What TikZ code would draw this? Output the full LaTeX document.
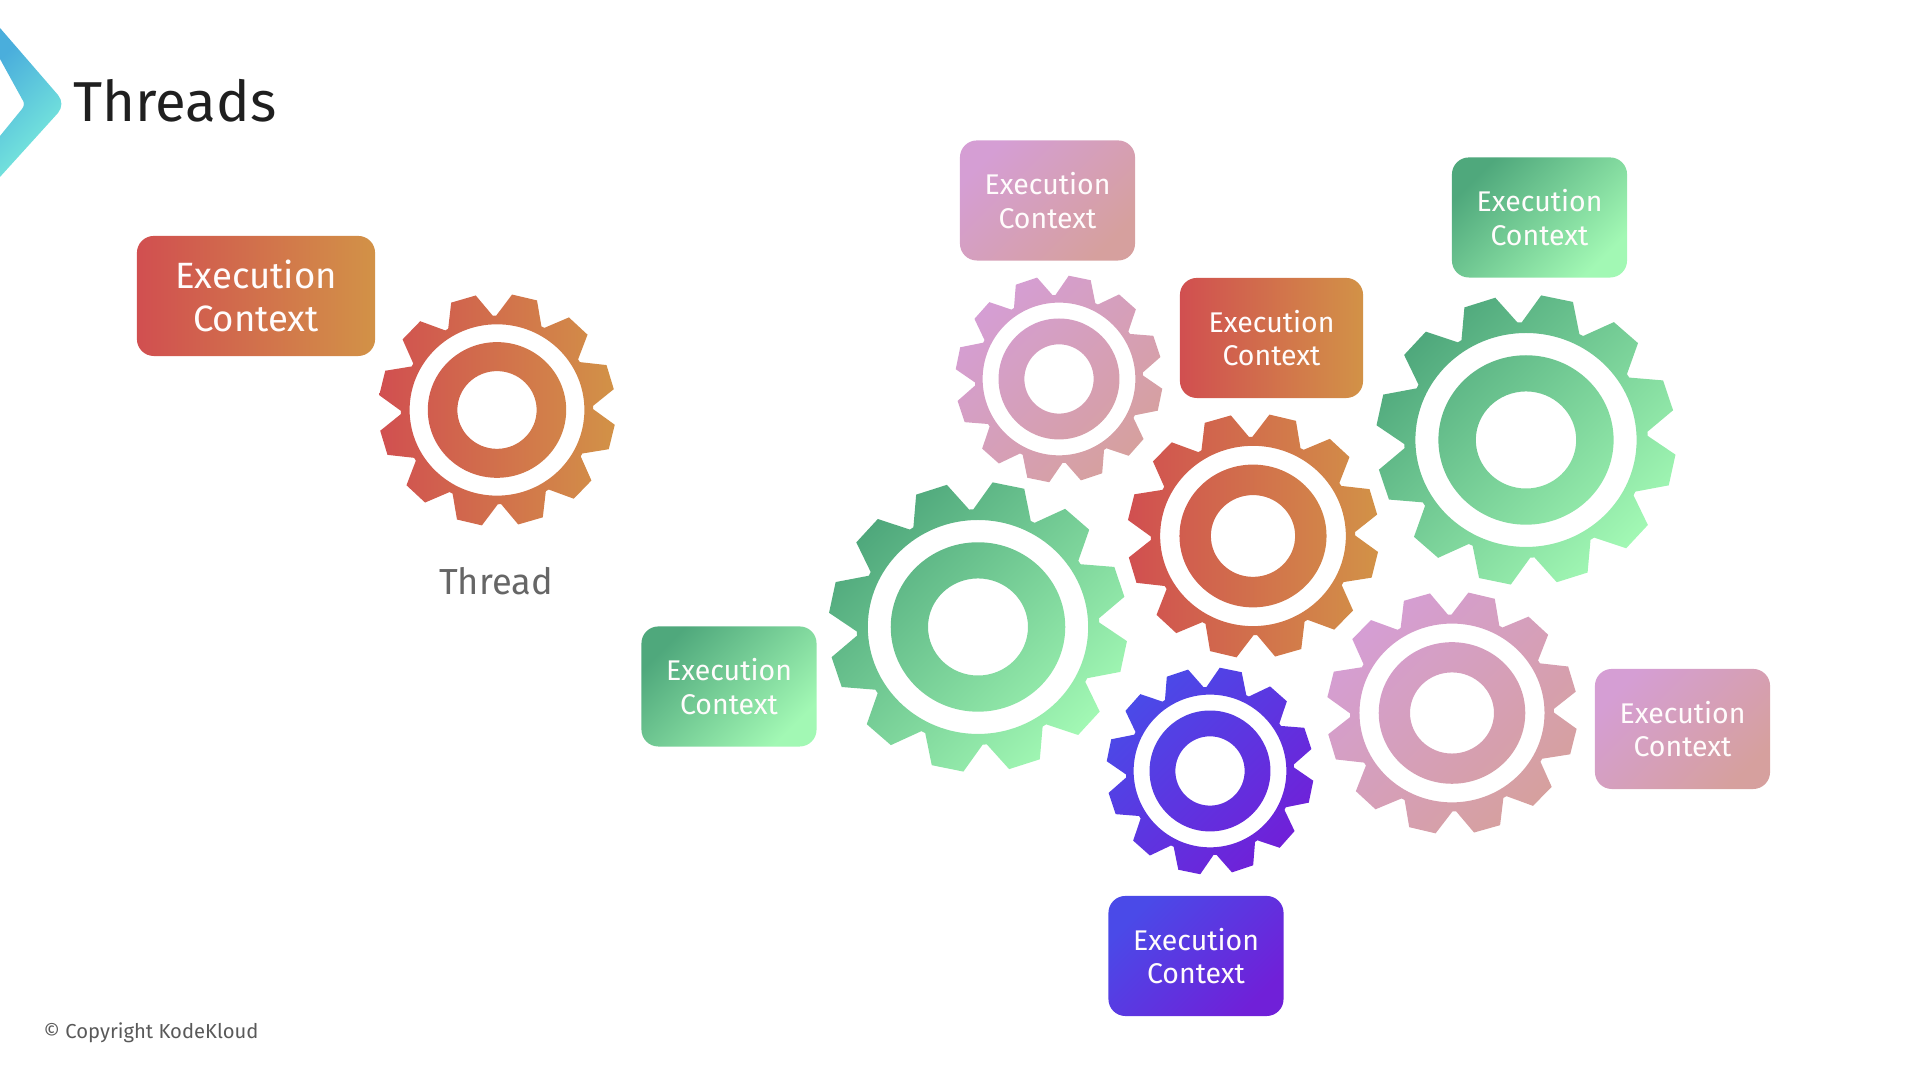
\documentclass[tikz,border=0pt]{standalone}
\usepackage{fontspec}
\setmainfont{Fira Sans}
\usepackage{tikz}
\usetikzlibrary{positioning}

\definecolor{redA}{HTML}{D14F50}
\definecolor{redB}{HTML}{D29247}
\definecolor{pinkA}{HTML}{D59ED4}
\definecolor{pinkB}{HTML}{D6A09E}
\definecolor{greenA}{HTML}{4FA87C}
\definecolor{greenB}{HTML}{A2F8B4}
\definecolor{blueA}{HTML}{4A4AE8}
\definecolor{blueB}{HTML}{7020D8}
\definecolor{logoA}{HTML}{4AAEDC}
\definecolor{logoB}{HTML}{7CEEDC}

\tikzset{
  redgrad/.style={left color=redA, right color=redB},
  pinkgrad/.style={left color=pinkA, right color=pinkB, shading angle=45},
  greengrad/.style={left color=greenA, right color=greenB, shading angle=45},
  bluegrad/.style={left color=blueA, right color=blueB, shading angle=45},
  ctxbox/.style={rounded corners=4.8pt, minimum width=1.75cm, minimum height=1.2cm, inner sep=0pt,
    align=center, text=white!95!pink, font=\fontsize{8.1}{9.6}\selectfont},
  bigbox/.style={ctxbox, minimum width=2.38cm, font=\fontsize{10.4}{12.2}\selectfont},
}

% x, y, outer radius, rotation, gradient and stretch
\newcommand{\gear}[5]{
  \path[shift={(#1,#2)}, #5, even odd rule] (#4+1:.82*#3)
    \foreach \a in {15,45,...,345} {
      -- (#4+\a-14:.82*#3) -- (#4+\a-6.2:1.012*#3) -- (#4+\a+6.2:1.012*#3) -- (#4+\a+14:.82*#3)
    } -- cycle
    (0,0) circle (.745*#3) (0,0) circle (.59*#3) (0,0) circle (.338*#3);
}

\begin{document}
\begin{tikzpicture}[x=.01cm, y=.01cm]
  \useasboundingbox (0,0) rectangle (1920,1080);

  % logo and title
  \path[left color=logoA, right color=logoB, shading angle=45]
    (0,1052) -- (58,985) to[out=-50,in=50] (58,967) -- (0,903) -- (0,944) -- (22,971) to[out=50,in=-50] (22,981) -- (0,1021) -- cycle;
  \node[anchor=base west, inner sep=0pt, text=black!88, font=\fontsize{16}{18}\selectfont] (title) at (73,958) {Threads};

  % single thread
  \gear{497}{670}{115}{1.5}{redgrad, xscale=1.02}
  \node[ctxbox, bigbox, redgrad] (ctxsingle) at (256,784) {Execution\\Context};
  \node[text=black!60, inner sep=0pt, font=\fontsize{10.3}{12}\selectfont] (thread) at (496,499) {Thread};

  % many threads
  \gear{1059}{701}{102.5}{3.4}{pinkgrad}
  \gear{1253}{544}{121}{1.3}{redgrad, xscale=1.03}
  \gear{1526}{640}{143.6}{3}{greengrad, xscale=1.034}
  \gear{978}{453}{143.6}{3.2}{greengrad, xscale=1.03}
  \gear{1452}{367}{120}{1.3}{pinkgrad, xscale=1.035}
  \gear{1210}{309}{102.5}{3.4}{bluegrad}

  \node[ctxbox, pinkgrad] (ctxpinktop) at (1047.5,879.5) {Execution\\Context};
  \node[ctxbox, minimum width=1.83cm, redgrad] (ctxred) at (1271.5,742) {Execution\\Context};
  \node[ctxbox, greengrad] (ctxgreentop) at (1539.5,862.5) {Execution\\Context};
  \node[ctxbox, greengrad] (ctxgreenleft) at (729,393.5) {Execution\\Context};
  \node[ctxbox, pinkgrad] (ctxpinkright) at (1682.5,351) {Execution\\Context};
  \node[ctxbox, bluegrad] (ctxblue) at (1196,124) {Execution\\Context};

  \node[anchor=base west, inner sep=0pt, text=black!65, font=\fontsize{5.75}{7}\selectfont] (copy) at (43,1080-1039) {© Copyright KodeKloud};
\end{tikzpicture}
\end{document}
